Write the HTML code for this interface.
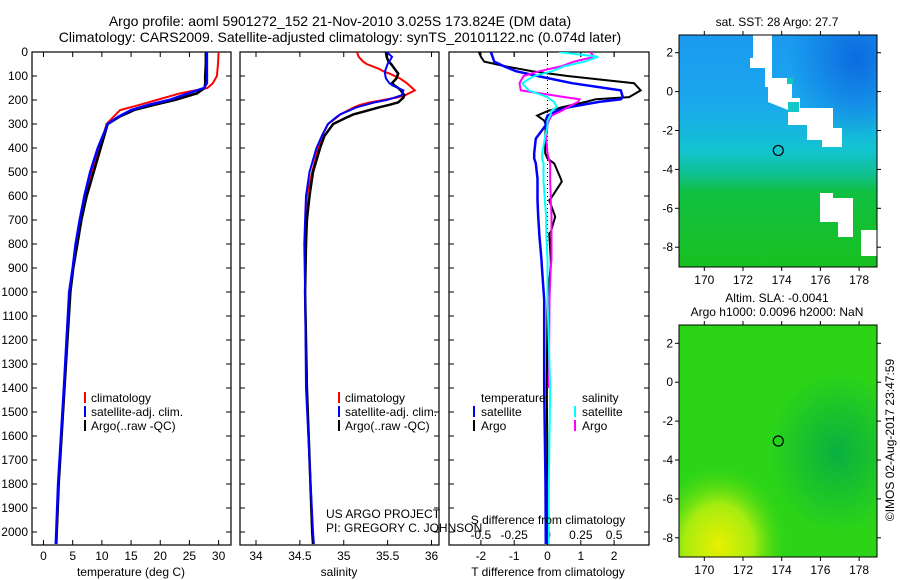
<!DOCTYPE html>
<html><head><meta charset="utf-8">
<style>
html,body{margin:0;padding:0;background:#fff;}
svg{display:block;font-family:"Liberation Sans",sans-serif;}
text{fill:#000;font-size:12px;}
</style></head>
<body>
<svg id="chart" width="900" height="580" viewBox="0 0 900 580" xmlns="http://www.w3.org/2000/svg">
<defs>
<clipPath id="c1"><rect x="32" y="52" width="199" height="493"/></clipPath>
<clipPath id="c2"><rect x="240" y="52" width="199" height="493"/></clipPath>
<clipPath id="c3"><rect x="449" y="52" width="200" height="493"/></clipPath>
<clipPath id="cm1"><rect x="679" y="35" width="198" height="232"/></clipPath>
<clipPath id="cm2"><rect x="679" y="325" width="198" height="232"/></clipPath>
<linearGradient id="sstg" x1="0" y1="0" x2="0" y2="1">
<stop offset="0" stop-color="#1b9af0"/><stop offset="0.3" stop-color="#1aa8ec"/>
<stop offset="0.5" stop-color="#12c4d0"/><stop offset="0.6" stop-color="#10c090"/>
<stop offset="0.68" stop-color="#10c040"/><stop offset="1" stop-color="#18c020"/></linearGradient>
<radialGradient id="sstdark" cx="0.9" cy="0.1" r="0.35"><stop offset="0" stop-color="#0a66dd" stop-opacity="0.9"/><stop offset="1" stop-color="#0a66dd" stop-opacity="0"/></radialGradient>
<radialGradient id="slay" cx="0.2" cy="0.95" r="0.35"><stop offset="0" stop-color="#e8f000"/><stop offset="0.5" stop-color="#a8ec10"/><stop offset="1" stop-color="#40d810" stop-opacity="0"/></radialGradient>
<radialGradient id="slad" cx="0.8" cy="0.55" r="0.35"><stop offset="0" stop-color="#08b040"/><stop offset="1" stop-color="#08b040" stop-opacity="0"/></radialGradient>
</defs>

<text x="340" y="26" text-anchor="middle" style="font-size:14px">Argo profile: aoml 5901272_152 21-Nov-2010 3.025S 173.824E (DM data)</text>
<text x="340" y="42" text-anchor="middle" style="font-size:14px">Climatology: CARS2009. Satellite-adjusted climatology: synTS_20101122.nc (0.074d later)</text>

<g id="p1"></g>
<g id="p2"></g>
<g id="p3"></g>

<text x="131" y="576" text-anchor="middle">temperature (deg C)</text>
<text x="339" y="576" text-anchor="middle">salinity</text>
<text x="548" y="576" text-anchor="middle">T difference from climatology</text>
<text x="548" y="524" text-anchor="middle">S difference from climatology</text>
<text x="326" y="518">US ARGO PROJECT</text>
<text x="326" y="532">PI: GREGORY C. JOHNSON</text>

<g>
<rect x="84" y="392" width="2" height="11" fill="#f00"/><text x="91" y="402">climatology</text>
<rect x="84" y="406" width="2" height="11" fill="#00f"/><text x="91" y="416">satellite-adj. clim.</text>
<rect x="84" y="420" width="2" height="11" fill="#000"/><text x="91" y="430">Argo(..raw -QC)</text>
</g>
<g>
<rect x="338" y="392" width="2" height="11" fill="#f00"/><text x="345" y="402">climatology</text>
<rect x="338" y="406" width="2" height="11" fill="#00f"/><text x="345" y="416">satellite-adj. clim.</text>
<rect x="338" y="420" width="2" height="11" fill="#000"/><text x="345" y="430">Argo(..raw -QC)</text>
</g>
<g>
<text x="481" y="402">temperature</text><text x="582" y="402">salinity</text>
<rect x="473" y="406" width="2" height="11" fill="#00f"/><text x="481" y="416">satellite</text>
<rect x="473" y="420" width="2" height="11" fill="#000"/><text x="481" y="430">Argo</text>
<rect x="574" y="406" width="2" height="11" fill="#0ff"/><text x="582" y="416">satellite</text>
<rect x="574" y="420" width="2" height="11" fill="#f0f"/><text x="582" y="430">Argo</text>
</g>

<text x="777" y="26" text-anchor="middle">sat. SST: 28 Argo: 27.7</text>
<text x="777" y="302" text-anchor="middle">Altim. SLA: -0.0041</text>
<text x="777" y="316" text-anchor="middle">Argo h1000: 0.0096 h2000: NaN</text>

<g clip-path="url(#cm1)">
<rect x="679" y="35" width="198" height="232" fill="url(#sstg)"/>
<rect x="679" y="35" width="198" height="232" fill="url(#sstdark)"/>
<g fill="#fff">
<polygon points="753,35 772,35 772,78 792,78 792,98 800,98 800,108 833,108 833,128 842,128 842,147 822,147 822,140 807,140 807,125 788,125 788,110 768,102 768,87 765,87 765,68 750,68 750,58 753,58"/>
<polygon points="820,193 833,193 833,198 853,198 853,237 838,237 838,222 820,222"/>
<polygon points="861,230 877,230 877,256 861,256"/>
</g>
<rect x="787" y="78" width="6" height="6" fill="#14c8c8"/>
<rect x="788" y="102" width="11" height="10" fill="#14c8c8"/>
</g>
<g clip-path="url(#cm2)">
<rect x="679" y="325" width="198" height="232" fill="#2cd418"/>
<rect x="679" y="325" width="198" height="232" fill="url(#slad)"/>
<rect x="679" y="325" width="198" height="232" fill="url(#slay)"/>
</g>
<g id="maps"></g>
<text transform="translate(894,440) rotate(-90)" text-anchor="middle">©IMOS 02-Aug-2017 23:47:59</text>
</svg>
<script>
// ---- data ----
const tDepth = [0,50,100,130,150,172,200,220,242,270,300,400,500,600,700,800,900,1000,1400,1800,2050];
const tClim  = [30,29.9,29.7,29,28.1,23.4,19.4,16.5,13.1,12,10.8,9.7,8.2,7.1,6.3,5.6,5.1,4.5,3.6,2.6,2.2];
const tSat   = [28,28,28,28,27.5,24.8,21.5,18,15,12.8,11,9.3,8.0,7.0,6.2,5.5,5.0,4.4,3.5,2.5,2.1];
const tArgo  = [27.8,27.8,27.7,27.7,27.6,26.3,22.5,19,15.5,13,11,9.8,8.6,7.4,6.5,5.8,5.1,4.6,3.6,2.6,2.2];
const sDepth = [0,20,40,50,70,80,90,110,130,140,150,160,180,190,200,210,220,230,260,270,300,350,400,500,600,700,800,1000,1400,2000,2050];
const sClim  = [35.15,35.17,35.22,35.26,35.4,35.45,35.52,35.64,35.72,35.75,35.78,35.81,35.7,35.6,35.45,35.3,35.19,35.12,34.96,34.93,34.82,34.75,34.71,34.64,34.58,34.57,34.56,34.56,34.58,34.64,34.65];
const sSat   = [35.49,35.55,35.52,35.5,35.48,35.47,35.47,35.48,35.52,35.56,35.62,35.68,35.66,35.58,35.49,35.35,35.25,35.15,34.96,34.92,34.82,34.75,34.69,34.61,34.57,34.56,34.55,34.56,34.57,34.65,34.66];
const sArgo  = [35.48,35.49,35.51,35.54,35.58,35.6,35.62,35.6,35.55,35.58,35.62,35.65,35.69,35.68,35.65,35.62,35.52,35.41,35.11,35.05,34.88,34.78,34.73,34.65,34.61,34.58,34.57,34.56,34.58,34.64,34.65];
const dDepth = [0,20,40,60,80,100,130,160,188,197,208,230,244,265,286,305,361,422,444,464,528,540,611,617,686,750,756,867,890,1033,1400,1800,2050];
const dtSat  = [-1.7,-1.65,-1.6,-1.3,-0.95,-0.3,0.74,2.2,2.26,2.2,1.55,0.65,0.3,0.0,-0.05,-0.05,-0.35,-0.4,-0.4,-0.35,-0.3,-0.3,-0.3,-0.3,-0.28,-0.25,-0.25,-0.18,-0.17,-0.1,-0.1,-0.06,-0.05];
const dtArgo = [-2.06,-2.0,-1.9,-1.25,-0.46,0.6,2.6,2.8,2.45,1.45,1.15,0.44,0.04,-0.31,-0.1,-0.05,-0.07,-0.07,0.0,0.2,0.4,0.43,0.1,0.05,0.23,0.1,0.05,0.1,0.1,0.0,-0.02,0.0,0.0];
const dsSat  = [0.085,0.38,0.28,0.12,0.035,-0.1,-0.19,-0.14,0.0,0.02,0.05,0.07,0.03,0.02,0.0,0.0,-0.02,-0.04,-0.04,-0.03,-0.03,-0.03,-0.02,-0.02,-0.01,-0.01,-0.01,0.0,0.0,0.0,0.02,0.01,0.01];
const dsArgo = [0.32,0.35,0.2,0.1,-0.06,-0.18,-0.21,-0.2,0.13,0.24,0.23,0.15,0.11,0.03,0.01,0.0,-0.01,0.0,0.01,0.02,0.02,0.02,0.025,0.025,0.03,0.03,0.03,0.03,0.025,0.015,0.01];
const depthTicks = [0,100,200,300,400,500,600,700,800,900,1000,1100,1200,1300,1400,1500,1600,1700,1800,1900,2000];
const tempTicks = [0,5,10,15,20,25,30];
const salTicks = [34,34.5,35,35.5,36];
const tdTicks = [-2,-1,0,1,2];
const sdTicks = [-0.5,-0.25,0,0.25,0.5];
const lonTicks = [170,172,174,176,178];
const latTicks = [2,0,-2,-4,-6,-8];
const argoLon = 173.824, argoLat = -3.025;

// ---- scales ----
const NS='http://www.w3.org/2000/svg';
const yD = d => 52 + d*0.24;
const xT = t => 43.5 + t*5.837;
const xS = s => 256 + (s-34)*87.75;
const xTD = v => 547.5 + v*33.3;
const xSD = v => 547.5 + v*133.3;
const mx = lon => 704.3 + (lon-170)*19.35;
const my1 = lat => 52.7 + (2-lat)*19.45;
const my2 = lat => 343.3 + (2-lat)*19.45;

function mk(tag, attrs, parent){const e=document.createElementNS(NS,tag);for(const k in attrs)e.setAttribute(k,attrs[k]);parent.appendChild(e);return e;}
function series(parent, xs, ds, xf, color, w, name){
  const pts = xs.map((v,i)=>xf(v).toFixed(1)+','+yD(ds[i]).toFixed(1)).join(' ');
  const el = mk('polyline',{points:pts,fill:'none',stroke:color,'stroke-width':w},parent);
  
  
}
function frame(g,x0,x1,ticksX,xf,lbls,yLabels){
  const r = mk('rect',{x:x0,y:52,width:x1-x0,height:493,fill:'none',stroke:'#000','stroke-width':1.2},g);
  
  
  depthTicks.forEach(d=>{
    mk('line',{x1:x0,x2:x0+5,y1:yD(d),y2:yD(d),stroke:'#000'},g);
    mk('line',{x1:x1-5,x2:x1,y1:yD(d),y2:yD(d),stroke:'#000'},g);
    if(yLabels){const t=mk('text',{x:x0-4,y:yD(d)+4,'text-anchor':'end'},g);t.textContent=d;
      
      }
  });
  ticksX.forEach(v=>{
    mk('line',{x1:xf(v),x2:xf(v),y1:545,y2:540,stroke:'#000'},g);
    mk('line',{x1:xf(v),x2:xf(v),y1:52,y2:57,stroke:'#000'},g);
    if(lbls){const t=mk('text',{x:xf(v),y:560,'text-anchor':'middle'},g);t.textContent=v;
      
      }
  });
}
const p1=document.getElementById('p1'),p2=document.getElementById('p2'),p3=document.getElementById('p3');
frame(p1,32,231,tempTicks,xT,true,true);
frame(p2,240,439,salTicks,xS,true,false);
frame(p3,449,649,tdTicks,xTD,true,false);
sdTicks.forEach(v=>{
  mk('line',{x1:xSD(v),x2:xSD(v),y1:52,y2:57,stroke:'#000'},p3);
  const t=mk('text',{x:xSD(v),y:539,'text-anchor':'middle'},p3);t.textContent=v;
  
  
});
mk('line',{x1:xTD(0),x2:xTD(0),y1:52,y2:545,stroke:'#000','stroke-dasharray':'1,3'},p3);

const g1=mk('g',{'clip-path':'url(#c1)'},p1);
series(g1,tClim,tDepth,xT,'#f00',2,'temperature-climatology-line');
series(g1,tArgo,tDepth,xT,'#000',2.5,'temperature-argo-line');
series(g1,tSat,tDepth,xT,'#00f',2.5,'temperature-satellite-line');
const g2=mk('g',{'clip-path':'url(#c2)'},p2);
series(g2,sClim,sDepth,xS,'#f00',2,'salinity-climatology-line');
series(g2,sArgo,sDepth,xS,'#000',2.5,'salinity-argo-line');
series(g2,sSat,sDepth,xS,'#00f',2,'salinity-satellite-line');
const g3=mk('g',{'clip-path':'url(#c3)'},p3);
series(g3,dtArgo,dDepth,xTD,'#000',2,'t-diff-argo-line');
series(g3,dtSat,dDepth,xTD,'#00f',2.5,'t-diff-satellite-line');
series(g3,dsArgo,dDepth,xSD,'#f0f',2,'s-diff-argo-line');
series(g3,dsSat,dDepth,xSD,'#0ff',2,'s-diff-satellite-line');

// map axes
const mg=document.getElementById('maps');
[[35,267,my1],[325,557,my2]].forEach(([t,b,myf],i)=>{
  const r=mk('rect',{x:679,y:t,width:198,height:b-t,fill:'none',stroke:'#000'},mg);
  
  
  lonTicks.forEach(l=>{
    mk('line',{x1:mx(l),x2:mx(l),y1:t,y2:t-4,stroke:'#000'},mg);
    mk('line',{x1:mx(l),x2:mx(l),y1:b,y2:b+4,stroke:'#000'},mg);
    const tx=mk('text',{x:mx(l),y:b+17,'text-anchor':'middle'},mg);tx.textContent=l;
    
    
  });
  latTicks.forEach(l=>{
    mk('line',{x1:679,x2:675,y1:myf(l),y2:myf(l),stroke:'#000'},mg);
    mk('line',{x1:877,x2:881,y1:myf(l),y2:myf(l),stroke:'#000'},mg);
    const tx=mk('text',{x:673,y:myf(l)+4,'text-anchor':'end'},mg);tx.textContent=l;
    
    
  });
  const c=mk('circle',{cx:mx(argoLon),cy:myf(argoLat),r:5,fill:'none',stroke:'#000','stroke-width':1.2},mg);
  
  
});
</script>
</body></html>
